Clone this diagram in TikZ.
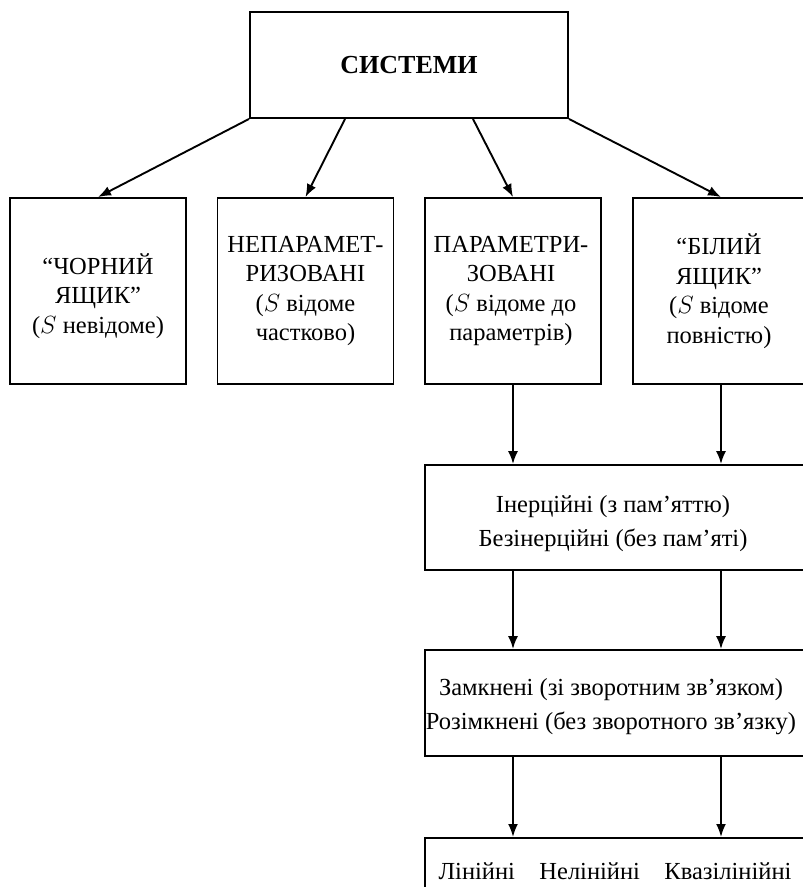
\documentclass[tikz,border=0pt]{standalone}
\usepackage{fontspec}
\setmainfont{Liberation Serif}
\usetikzlibrary{arrows.meta,calc}
\begin{document}
\begin{tikzpicture}[x=1pt,y=-1pt,
  box/.style={draw,line width=1.9pt,rectangle,inner sep=0pt},
  txt/.style={align=center,inner sep=0pt,font=\fontsize{24.5}{29.5}\selectfont},
  arr/.style={line width=1.9pt,-{Latex[length=13pt,width=10pt]}}]
\useasboundingbox (0,0) rectangle (803,887);
\node[box,minimum width=318pt,minimum height=106pt,
  label={[txt,font=\fontsize{26}{28}\selectfont\bfseries]center:СИСТЕМИ}] (top) at (409,65) {};
\node[box,minimum width=176pt,minimum height=186pt,
  label={[txt,yshift=-5pt]center:“ЧОРНИЙ\\ЯЩИК”\\($S$ невідоме)}] (b1) at (98,291) {};
\node[box,minimum width=176pt,minimum height=186pt,
  label={[txt]center:НЕПАРАМЕТ-\\РИЗОВАНІ\\($S$ відоме\\частково)}] (b2) at (305.5,291) {};
\node[box,minimum width=176pt,minimum height=186pt,
  label={[txt,xshift=-2pt]center:ПАРАМЕТРИ-\\ЗОВАНІ\\($S$ відоме до\\параметрів)}] (b3) at (513,291) {};
\node[box,minimum width=176pt,minimum height=186pt,
  label={[txt,xshift=-2pt]center:“БІЛИЙ\\ЯЩИК”\\($S$ відоме\\повністю)}] (b4) at (721,291) {};
\node[box,minimum width=384pt,minimum height=105pt,
  label={[txt,xshift=-4pt,yshift=-6pt]center:Інерційні (з пам’яттю)\\[5pt]Безінерційні (без пам’яті)}] (inert) at (617,517.5) {};
\node[box,minimum width=384pt,minimum height=106pt,
  label={[txt,xshift=-6pt,yshift=-3.5pt]center:Замкнені (зі зворотним зв’язком)\\[5pt]Розімкнені (без зворотного зв’язку)}] (closed) at (617,703) {};
\node[box,minimum width=384pt,minimum height=106pt,anchor=north,
  label={[txt,xshift=-2pt,yshift=20pt]center:Лінійні\quad Нелінійні\quad Квазілінійні}] (lin) at (617,837) {};
\draw[arr] (top.south west) -- (b1.north);
\draw[arr] ($(top.south west)!0.3!(top.south east)$) -- (b2.north);
\draw[arr] ($(top.south west)!0.7!(top.south east)$) -- (b3.north);
\draw[arr] (top.south east) -- (b4.north);
\draw[arr] (b3.south) -- (b3.south |- inert.north);
\draw[arr] (b4.south) -- (b4.south |- inert.north);
\draw[arr] (b3.south |- inert.south) -- (b3.south |- closed.north);
\draw[arr] (b4.south |- inert.south) -- (b4.south |- closed.north);
\draw[arr] (b3.south |- closed.south) -- (b3.south |- lin.north);
\draw[arr] (b4.south |- closed.south) -- (b4.south |- lin.north);
\end{tikzpicture}
\end{document}
